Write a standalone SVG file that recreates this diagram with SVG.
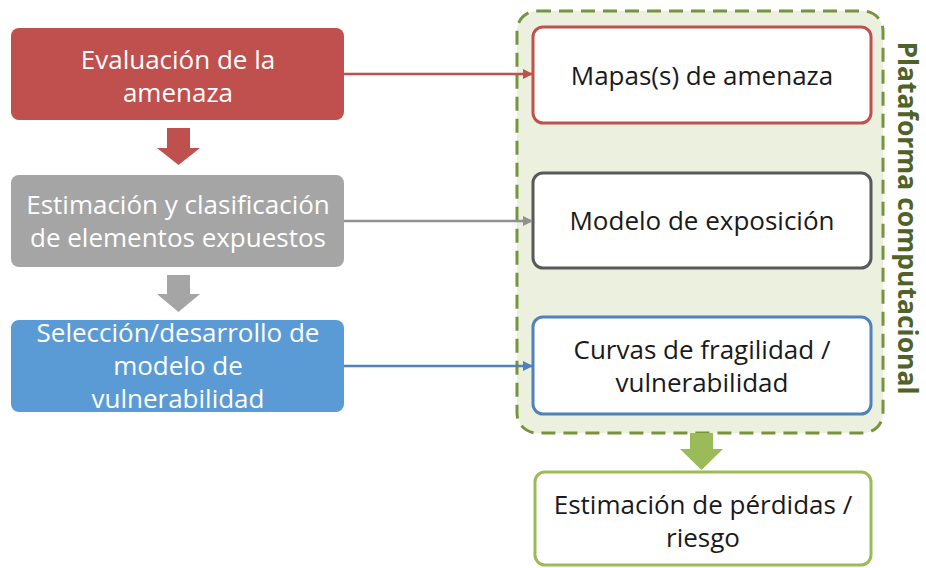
<svg xmlns="http://www.w3.org/2000/svg" width="926" height="568" viewBox="0 0 926 568">
<defs>
<style>
.lt{font-family:"Open Sans","Liberation Sans",sans-serif;font-size:26px;fill:#ffffff;text-anchor:middle}
.rt{font-family:"Open Sans","Liberation Sans",sans-serif;font-size:26px;fill:#1a1a1a;text-anchor:middle}
.wb{fill:#ffffff;stroke-width:3}
.con{fill:none;stroke-width:2.5}
</style>
<marker id="ar" viewBox="0 0 10 10" refX="9" refY="5" markerWidth="4" markerHeight="4" orient="auto"><path d="M0,0 L10,5 L0,10 z" fill="#C0504D"/></marker>
<marker id="ag" viewBox="0 0 10 10" refX="9" refY="5" markerWidth="4" markerHeight="4" orient="auto"><path d="M0,0 L10,5 L0,10 z" fill="#909090"/></marker>
<marker id="ab" viewBox="0 0 10 10" refX="9" refY="5" markerWidth="4" markerHeight="4" orient="auto"><path d="M0,0 L10,5 L0,10 z" fill="#4F81BD"/></marker>
</defs>
<rect width="926" height="568" fill="#ffffff"/>

<g id="plataforma">
<rect x="517" y="11" width="366" height="422" rx="20" fill="#EBF1DE" stroke="#77933C" stroke-width="3" stroke-dasharray="14 8"/>
<text x="908" y="218" writing-mode="vertical-rl" text-anchor="middle" font-family="'Open Sans','Liberation Sans',sans-serif" font-weight="bold" font-size="26.5" fill="#4F6228">Plataforma computacional</text>
</g>

<g id="evaluacion">
<rect x="11" y="28" width="333" height="92" rx="8" fill="#C0504D"/>
<text class="lt" x="178" y="69">Evaluación de la</text>
<text class="lt" x="178" y="102">amenaza</text>
</g>
<g id="estimacion">
<rect x="11" y="175" width="333" height="92" rx="8" fill="#A5A5A5"/>
<text class="lt" x="178" y="214">Estimación y clasificación</text>
<text class="lt" x="178" y="247">de elementos expuestos</text>
</g>
<g id="seleccion">
<rect x="11" y="320" width="333" height="92" rx="8" fill="#5B9BD5"/>
<text class="lt" x="178" y="342">Selección/desarrollo de</text>
<text class="lt" x="178" y="375">modelo de</text>
<text class="lt" x="178" y="408">vulnerabilidad</text>
</g>

<g id="mapas">
<rect class="wb" x="533" y="27" width="338" height="96" rx="10" stroke="#C0504D"/>
<text class="rt" x="702" y="85">Mapas(s) de amenaza</text>
</g>
<g id="modelo">
<rect class="wb" x="533" y="173" width="338" height="95" rx="10" stroke="#595959"/>
<text class="rt" x="702" y="230">Modelo de exposición</text>
</g>
<g id="curvas">
<rect class="wb" x="533" y="317" width="338" height="97" rx="10" stroke="#4F81BD"/>
<text class="rt" x="702" y="359">Curvas de fragilidad /</text>
<text class="rt" x="702" y="392">vulnerabilidad</text>
</g>
<g id="perdidas">
<rect class="wb" x="535" y="472" width="336" height="93" rx="10" stroke="#9BBB59"/>
<text class="rt" x="703" y="514">Estimación de pérdidas /</text>
<text class="rt" x="703" y="547">riesgo</text>
</g>

<g id="connectors">
<path class="con" d="M344,74 L532,74" stroke="#C0504D" marker-end="url(#ar)"/>
<path class="con" d="M344,221 L532,221" stroke="#909090" marker-end="url(#ag)"/>
<path class="con" d="M344,366 L532,366" stroke="#4F81BD" marker-end="url(#ab)"/>
<path d="M167,128 H190 V148 H200 L178.5,165 L157,148 H167 Z" fill="#C0504D"/>
<path d="M167,275 H190 V294 H200 L178.5,312 L157,294 H167 Z" fill="#A5A5A5"/>
<path d="M690,433 H713 V449 H723 L701.5,470 L680,449 H690 Z" fill="#9BBB59"/>
</g>
</svg>
